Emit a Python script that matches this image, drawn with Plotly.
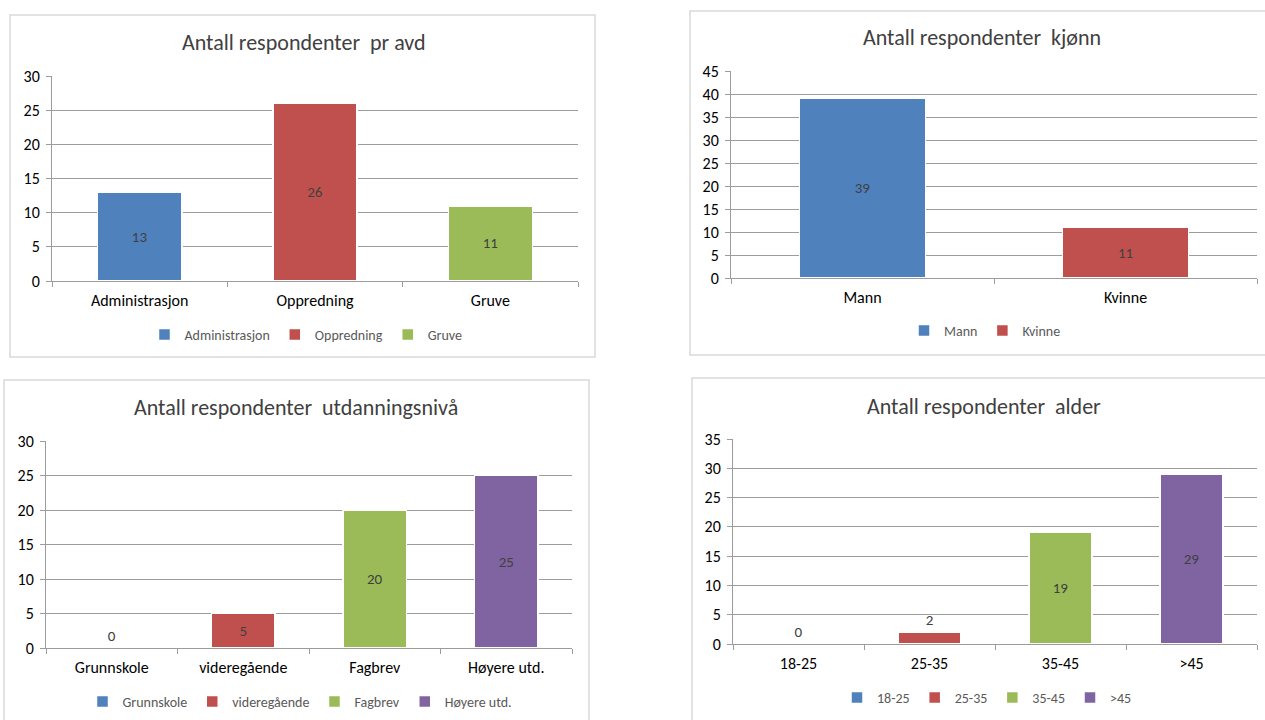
import plotly.graph_objects as go

# ---- data -------------------------------------------------------------
avd_categories = ["Administrasjon", "Oppredning", "Gruve"]
avd_values = [13, 26, 11]

kjonn_categories = ["Mann", "Kvinne"]
kjonn_values = [39, 11]

utdanning_categories = ["Grunnskole", "videregående", "Fagbrev", "Høyere utd."]
utdanning_values = [0, 5, 20, 25]

alder_categories = ["18-25", "25-35", "35-45", ">45"]
alder_values = [0, 2, 19, 29]

titles = [
    "Antall respondenter  pr avd",
    "Antall respondenter  kjønn",
    "Antall respondenter  utdanningsnivå",
    "Antall respondenter  alder",
]
y_max = [30, 45, 30, 35]

# ---- styling ----------------------------------------------------------
W, H = 1265, 720
FONT = "Carlito, Lato, 'Liberation Sans', sans-serif"
PALETTE = ["#4F81BD", "#C0504D", "#9BBB59", "#8064A2"]
GRID = "#9c9c9c"
BORDER = "#d9d9d9"


def px_x(v):
    return v / W


def px_y(v):
    return 1 - v / H


# pixel geometry of each panel: plot box, outer frame, title / legend spots
panels = [
    dict(plot=(52, 578, 76, 281), frame=(10, 595, 15, 357),
         title=(304, 42), legend=(306, 335)),
    dict(plot=(731, 1257, 71, 278), frame=(690, 1275, 11, 355),
         title=(982, 37), legend=(985, 331)),
    dict(plot=(46, 572, 441, 648), frame=(4, 589, 380, 730),
         title=(296, 407), legend=(300, 702)),
    dict(plot=(733, 1257, 439, 644), frame=(692, 1275, 378, 730),
         title=(984, 406), legend=(987, 698)),
]

datasets = [
    (avd_categories, avd_values),
    (kjonn_categories, kjonn_values),
    (utdanning_categories, utdanning_values),
    (alder_categories, alder_values),
]

fig = go.Figure()
layout = dict(
    width=W, height=H,
    margin=dict(l=0, r=0, t=0, b=0, autoexpand=False),
    paper_bgcolor="white", plot_bgcolor="white",
    barmode="stack",
    font=dict(family=FONT, color="#262626"),
    shapes=[], annotations=[],
)

for i, (panel, (cats, vals)) in enumerate(zip(panels, datasets)):
    n = i + 1
    xa = "x" if n == 1 else f"x{n}"
    ya = "y" if n == 1 else f"y{n}"
    leg = "legend" if n == 1 else f"legend{n}"

    for j, (c, v) in enumerate(zip(cats, vals)):
        fig.add_trace(go.Bar(
            x=[c], y=[v], name=c,
            xaxis=xa, yaxis=ya, legend=leg,
            width=0.48,
            marker=dict(color=PALETTE[j], line=dict(color="white", width=1.5)),
            text=[str(v)],
            textposition="outside" if v == 0 else "auto",
            insidetextanchor="middle",
            textfont=dict(family=FONT, size=15, color="#404040"),
            cliponaxis=False,
        ))

    x0, x1, y0, y1 = panel["plot"]
    layout["xaxis" if n == 1 else f"xaxis{n}"] = dict(
        domain=[px_x(x0), px_x(x1)], anchor=ya,
        type="category", categoryorder="array", categoryarray=cats,
        showline=True, linecolor=GRID, linewidth=1,
        ticks="outside", tickson="boundaries", ticklen=5, tickcolor=GRID,
        ticklabelstandoff=5,
        tickfont=dict(family=FONT, size=16, color="#000000"),
        showgrid=False, fixedrange=True,
    )
    layout["yaxis" if n == 1 else f"yaxis{n}"] = dict(
        domain=[px_y(y1), px_y(y0)], anchor=xa,
        range=[0, y_max[i]], dtick=5,
        showline=True, linecolor=GRID, linewidth=1,
        ticks="outside", ticklen=5, tickcolor=GRID,
        ticklabelstandoff=3,
        showgrid=True, gridcolor=GRID, gridwidth=1, zeroline=False,
        tickfont=dict(family=FONT, size=16, color="#000000"),
        fixedrange=True,
    )

    fx0, fx1, fy0, fy1 = panel["frame"]
    layout["shapes"].append(dict(
        type="rect", xref="paper", yref="paper",
        x0=px_x(fx0), x1=px_x(fx1), y0=px_y(fy1), y1=px_y(fy0),
        line=dict(color=BORDER, width=1.5), layer="below",
    ))

    tx, ty = panel["title"]
    layout["annotations"].append(dict(
        text=titles[i], xref="paper", yref="paper",
        x=px_x(tx), y=px_y(ty), xanchor="center", yanchor="middle",
        showarrow=False, font=dict(family=FONT, size=22, color="#404040"),
    ))

    lx, ly = panel["legend"]
    layout[leg] = dict(
        orientation="h", x=px_x(lx), y=px_y(ly),
        xanchor="center", yanchor="middle",
        font=dict(family=FONT, size=14, color="#595959"),
        itemwidth=30, traceorder="normal",
        bgcolor="rgba(0,0,0,0)",
    )

fig.update_layout(**layout)
fig.write_html("out.html", config={"displayModeBar": False})
